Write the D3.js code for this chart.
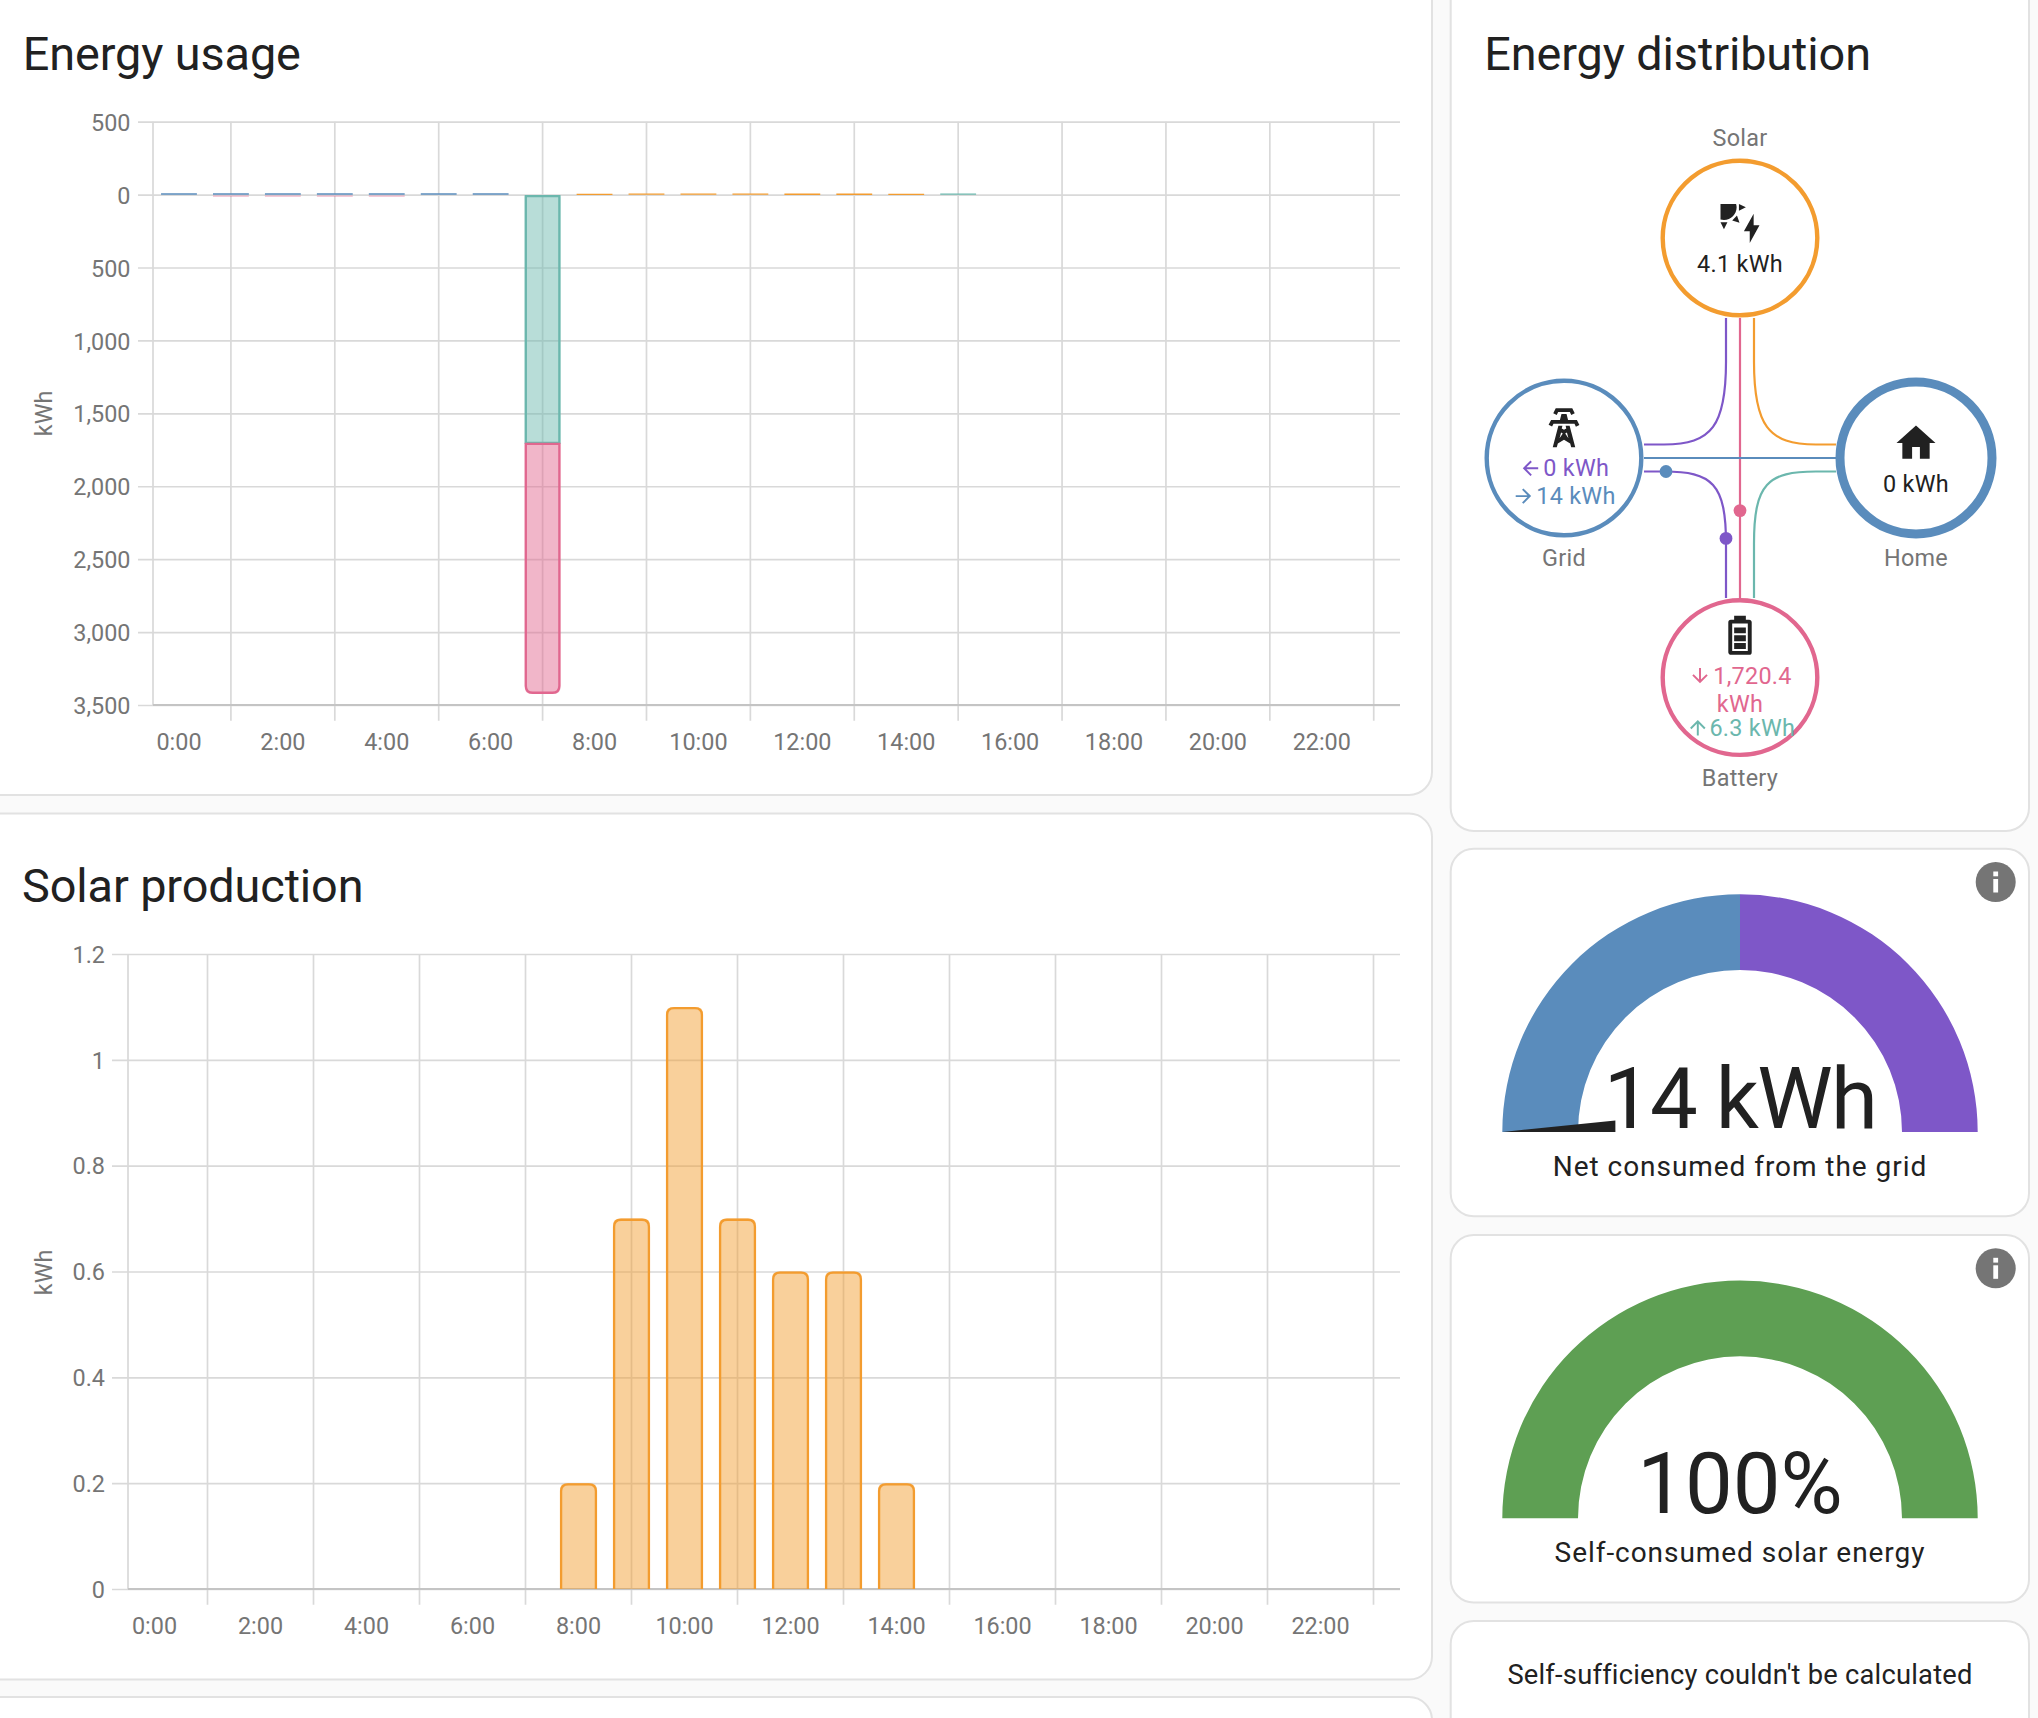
<!DOCTYPE html>
<html><head><meta charset="utf-8">
<style>
html,body{margin:0;padding:0;background:#fafafa;}
svg{display:block;font-family:Roboto,sans-serif;}
.tick text{font-family:Roboto,sans-serif;}
</style>
<script src="https://cdn.jsdelivr.net/npm/d3@7/dist/d3.min.js"></script>
</head><body>
<script>
// ---------- data ----------
const hours = d3.range(24);
const usageYTicks = [500, 0, -500, -1000, -1500, -2000, -2500, -3000, -3500];
const solarYTicks = [0, 0.2, 0.4, 0.6, 0.8, 1, 1.2];
const gridToHome    = [2,2,2,2,2,2,2,0,0,0,0,0,0,0,0,0,0,0,0,0,0,0,0,0];
const solarToHome   = [0,0,0,0,0,0,0,0,0.2,0.7,1.1,0.7,0.6,0.6,0.2,0,0,0,0,0,0,0,0,0];
const batteryToHome = [0,0,0,0,0,0,0,0,0,0,0,0,0,0,0,1.5,0,0,0,0,0,0,0,0];
const gridReturn    = [0,0,0,0,0,0,0,-11,0,0,0,0,0,0,0,0,0,0,0,0,0,0,0,0];
const batteryOut    = [0,0,0,0,0,0,0,-1699,0,0,0,0,0,0,0,0,0,0,0,0,0,0,0,0];
const batteryIn     = [0,-1,-1,-1,-1,0,0,-1714,0,0,0,0,0,0,0,0,0,0,0,0,0,0,0,0];
const solarProduction = solarToHome;
const netGridShares = [1, 1];
const selfConsumedShares = [1];

// ---------- palette ----------
const BLUE="#5a8cbc", PURPLE="#7e57c8", ORANGE="#f39c2f", TEAL="#6bb7ad", PINK="#e1678f", GREEN="#5e9f53";
const INK="#212121", MUTED="#757575", BORDER="#e2e2e2", GRID="#d9d9d9", AXIS="#c4c4c4";

const W=2038,H=1718;
const svg=d3.select("body").append("svg").attr("width",W).attr("height",H).attr("viewBox",`0 0 ${W} ${H}`);

// ---------- cards ----------
const cards=[[-30,-30,1462,825],[-30,813.6,1462,866],[-30,1697,1462,200],
 [1450.7,-30,578.3,861],[1450.7,848.7,578.3,367.5],[1450.7,1235,578.3,367.5],[1450.7,1621,578.3,200]];
svg.append("g").selectAll("rect").data(cards).join("rect")
 .attr("x",d=>d[0]).attr("y",d=>d[1]).attr("width",d=>d[2]).attr("height",d=>d[3])
 .attr("rx",23).attr("fill","#fff").attr("stroke",BORDER).attr("stroke-width",2);

function text(g,x,y,s,o={}){
 return g.append("text").attr("x",x).attr("y",y).text(s)
  .attr("font-size",o.size||23.4).attr("fill",o.fill||INK)
  .attr("text-anchor",o.anchor||"middle").attr("font-weight",o.weight||400)
  .attr("letter-spacing",o.ls||null);
}
text(svg,22.8,70,"Energy usage",{size:46.8,anchor:"start",ls:-0.1});
text(svg,22,901.7,"Solar production",{size:46.8,anchor:"start",ls:-0.1});
text(svg,1484.3,70,"Energy distribution",{size:46.8,anchor:"start",ls:-0.1});

// bar outline with rounded outer end
function barPath(x,w,yBase,yEnd,r,inset){
 const dir=yEnd<yBase?-1:1, l=x+inset, rr=x+w-inset, e=yEnd-dir*inset;
 const c=Math.min(r,Math.abs(yEnd-yBase)/2,w/2);
 const p=d3.path();
 p.moveTo(l,yBase);
 if(c>0){
  p.lineTo(l,e-dir*c); p.quadraticCurveTo(l,e,l+c,e);
  p.lineTo(rr-c,e); p.quadraticCurveTo(rr,e,rr,e-dir*c);
 } else { p.lineTo(l,e); p.lineTo(rr,e); }
 p.lineTo(rr,yBase);
 return p.toString();
}

function chartFrame(cfg){
 const g=svg.append("g");
 const {x,y,yTicks,fmt,top,bottom,left,right,tickLeft,labelRight,labelBase,tickDown,labelDy}=cfg;
 // horizontal grid
 const ya=g.append("g").attr("transform",`translate(${left},0)`)
   .call(d3.axisLeft(y).tickValues(yTicks).tickFormat(fmt).tickSize(-(right-left)).tickPadding(0));
 ya.select(".domain").remove();
 ya.selectAll("line").attr("stroke",GRID).attr("stroke-width",1.7).attr("x2",right-left).attr("x1",tickLeft-left);
 ya.selectAll("text").attr("x",labelRight-left).attr("dy",null).attr("y",labelDy).attr("font-size",23.4).attr("fill",MUTED).attr("text-anchor","end");
 // vertical grid at the odd hours
 const xa=g.append("g").attr("transform",`translate(0,${bottom})`)
   .call(d3.axisBottom(x).tickValues(hours.filter(h=>h%2==1)).tickFormat("").tickSize(0));
 xa.select(".domain").remove();
 xa.selectAll("line").attr("stroke",GRID).attr("stroke-width",1.7).attr("y1",top-bottom).attr("y2",tickDown-bottom);
 // left edge and baseline
 g.append("line").attr("x1",left).attr("x2",left).attr("y1",top).attr("y2",bottom).attr("stroke",GRID).attr("stroke-width",1.7);
 g.append("line").attr("x1",left).attr("x2",right).attr("y1",bottom).attr("y2",bottom).attr("stroke",AXIS).attr("stroke-width",2);
 // hour labels at the even hours
 const xl=g.append("g").attr("transform",`translate(0,${labelBase})`)
   .call(d3.axisBottom(x).tickValues(hours.filter(h=>h%2==0)).tickFormat(h=>h+":00").tickSize(0).tickPadding(0));
 xl.select(".domain").remove();
 xl.selectAll("line").remove();
 xl.selectAll("text").attr("y",0).attr("dy",null).attr("font-size",23.4).attr("fill",MUTED);
 // y title
 g.append("text").attr("transform",`translate(${cfg.titleX},${cfg.titleY}) rotate(-90)`)
   .attr("text-anchor","middle").attr("font-size",23.4).attr("fill",MUTED).text("kWh");
}

function drawBars(x,y,rows,col,r){
 const g=svg.append("g");
 const w=x.bandwidth();
 rows.forEach(d=>{
  const a=y(d.y0),b=y(d.y1),h=Math.abs(b-a),cx=x(d.h);
  if(h===0||col==="none") return;
  if(h<3){
   const ly=d.y1>0?b-0.3:b+1.4;
   g.append("line").attr("x1",cx).attr("x2",cx+w).attr("y1",ly).attr("y2",ly)
    .attr("stroke",col).attr("stroke-width",d.y1>0?1.3:1.6).attr("stroke-opacity",d.y1>0?1:0.35);
   return;
  }
  g.append("path").attr("d",barPath(cx,w,a,b,d.round?r:0,0)).attr("fill",col).attr("fill-opacity",.48);
  g.append("path").attr("d",barPath(cx,w,a,b,d.round?r:0,1.15)+(d.closed?"Z":"")).attr("fill","none").attr("stroke",col).attr("stroke-width",2.3);
 });
}

// ---------- Energy usage ----------
const xU=d3.scaleBand().domain(hours).range([153,1399.7]).paddingInner(.31).paddingOuter(.155);
const yU=d3.scaleLinear().domain([500,-3500]).range([121.7,705]);
chartFrame({x:xU,y:yU,yTicks:usageYTicks,fmt:v=>d3.format(",")(Math.abs(v)),top:121.7,bottom:705,left:153,right:1400,
 tickLeft:138,labelRight:130.5,labelBase:750,tickDown:720.7,titleX:52,titleY:413.4,labelDy:8.6});
const usageKeys=[["grid",gridToHome,BLUE],["solar",solarToHome,ORANGE],["batt",batteryToHome,TEAL],["ret",gridReturn,"none"],["out",batteryOut,TEAL],["in",batteryIn,PINK]];
const usageTable=hours.map(h=>Object.fromEntries([["h",h],...usageKeys.map(k=>[k[0],k[1][h]])]));
const stacked=d3.stack().keys(usageKeys.map(k=>k[0])).offset(d3.stackOffsetDiverging)(usageTable);
stacked.forEach((s,i)=>{
 const rows=s.map((v,h)=>{
   const val=usageKeys[i][1][h];
   const from=val<0?v[1]:v[0], to=val<0?v[0]:v[1];
   return {h,y0:from,y1:to,round:usageKeys[i][0]==="in",closed:usageKeys[i][0]!=="solar"};
 }).filter(d=>d.y0!==d.y1);
 drawBars(xU,yU,rows,usageKeys[i][2],7);
});

// ---------- Solar production ----------
const xS=d3.scaleBand().domain(hours).range([128,1400]).paddingInner(.3).paddingOuter(.15);
const yS=d3.scaleLinear().domain([0,1.2]).range([1589,954]);
chartFrame({x:xS,y:yS,yTicks:solarYTicks,fmt:d3.format("~g"),top:954,bottom:1589,left:128,right:1400,
 tickLeft:112,labelRight:105,labelBase:1634,tickDown:1604.7,titleX:52,titleY:1272.4,labelDy:8.2});
drawBars(xS,yS,solarProduction.map((v,h)=>({h,y0:0,y1:v,round:true})).filter(d=>d.y1>0),ORANGE,7);

// ---------- Energy distribution ----------
const cxMid=1740,cyMid=458,cLeft=1564,cRight=1916,cTop=238,cBot=677.6;
const flows=svg.append("g").attr("fill","none").attr("stroke-width",2.2);
function flow(col,build){const p=d3.path();build(p);flows.append("path").attr("d",p.toString()).attr("stroke",col);}
const xA=1726,xB=1740,xC=1754,yA=444.5,yB=458,yC=471.5,xL=1644,xR=1836,yT=318,yD=598;
flow(PURPLE,p=>{p.moveTo(xA,yT);p.lineTo(xA,362);p.bezierCurveTo(xA,425,xA-14,yA,xA-62,yA);p.lineTo(xL,yA);});
flow(ORANGE,p=>{p.moveTo(xC,yT);p.lineTo(xC,362);p.bezierCurveTo(xC,425,xC+14,yA,xC+62,yA);p.lineTo(xR,yA);});
flow(PINK,p=>{p.moveTo(xB,yT);p.lineTo(xB,yD);});
flow(BLUE,p=>{p.moveTo(xL,yB);p.lineTo(xR,yB);});
flow(PURPLE,p=>{p.moveTo(xL,yC);p.lineTo(xL+20,yC);p.bezierCurveTo(xA-14,yC,xA,yC+12,xA,yC+72);p.lineTo(xA,yD);});
flow(TEAL,p=>{p.moveTo(xR,yC);p.lineTo(xR-20,yC);p.bezierCurveTo(xC+14,yC,xC,yC+12,xC,yC+72);p.lineTo(xC,yD);});
[[1666,yC,BLUE],[xA,538.4,PURPLE],[xB,510.6,PINK]].forEach(d=>
 svg.append("circle").attr("cx",d[0]).attr("cy",d[1]).attr("r",6.4).attr("fill",d[2]));

const nodes=[[cxMid,cTop,ORANGE,4.4,77.3],[cLeft,cyMid,BLUE,4.4,77.3],[cRight,cyMid,BLUE,9,76],[cxMid,cBot,PINK,4.4,77.3]];
svg.append("g").selectAll("circle").data(nodes).join("circle")
 .attr("cx",d=>d[0]).attr("cy",d=>d[1]).attr("r",d=>d[4]).attr("fill","none").attr("stroke",d=>d[2]).attr("stroke-width",d=>d[3]);

const ICONS={
 solar:"M11.45,2V5.55L15,3.77L11.45,2M10.45,8L8,10.46L11.75,11.71L10.45,8M2,11.45L3.77,15L5.55,11.45H2M10,2H2V10C2.57,10.17 3.17,10.25 3.77,10.25C7.35,10.26 10.26,7.35 10.27,3.75C10.26,3.16 10.17,2.57 10,2M17,22V16H14L19,7V13H22L17,22Z",
 tower:"M8.28,5.45L6.5,4.55L7.76,2H16.23L17.5,4.55L15.72,5.44L15,4H9L8.28,5.45M18.62,8H14.09L13.3,5H10.7L9.91,8H5.38L4.1,10.55L5.89,11.44L6.62,10H17.38L18.1,11.45L19.89,10.56L18.62,8M17.77,22H15.7L15.17,20.05L12,18.2L8.83,20.05L8.3,22H6.23L9.12,11H11.19L10.83,12.36L12,13.05L13.17,12.36L12.81,11H14.88L17.77,22M11.38,15L10.5,14.5L9.72,17.4L11.38,15M14.28,17.4L13.5,14.5L12.62,15L14.28,17.4Z",
 home:"M10,20V14H14V20H19V12H22L12,3L2,12H5V20H10Z",
 battery:"M16,20H8V6H16M16.67,4H15V2H9V4H7.33A1.33,1.33 0 0,0 6,5.33V20.67C6,21.4 6.6,22 7.33,22H16.67A1.33,1.33 0 0,0 18,20.67V5.33C18,4.6 17.4,4 16.67,4M15,16H9V19H15V16M15,12H9V15H15V12M15,8H9V11H15V8Z",
 left:"M20,11V13H8L13.5,18.5L12.08,19.92L4.16,12L12.08,4.08L13.5,5.5L8,11H20Z",
 right:"M4,11V13H16L10.5,18.5L11.92,19.92L19.84,12L11.92,4.08L10.5,5.5L16,11H4Z",
 down:"M11,4H13V16L18.5,10.5L19.92,11.92L12,19.84L4.08,11.92L5.5,10.5L11,16V4Z",
 up:"M13,20H11V8L5.5,13.5L4.08,12.08L12,4.16L19.92,12.08L18.5,13.5L13,8V20Z"
};
function icon(name,cx,top,size,fill){
 svg.append("path").attr("d",ICONS[name]).attr("fill",fill||INK)
  .attr("transform",`translate(${cx-size/2},${top}) scale(${size/24})`);
}
icon("solar",cxMid,200,46.8);
icon("tower",cLeft,404.3,46.8);
icon("home",cRight,419.7,46.8);
icon("battery",cxMid,611.9,46.8);

const LS=0.3;
text(svg,cxMid,145.8,"Solar",{fill:MUTED,ls:LS});
text(svg,cLeft,566,"Grid",{fill:MUTED,ls:LS});
text(svg,cRight,566,"Home",{fill:MUTED,ls:LS});
text(svg,cxMid,785.6,"Battery",{fill:MUTED,ls:LS});
text(svg,cxMid,271.8,"4.1 kWh",{ls:LS});
text(svg,cRight,492,"0 kWh",{ls:LS});

icon("left",1530.4,476.6-20,23.4,PURPLE);
text(svg,1543.2,476.2,"0 kWh",{fill:PURPLE,anchor:"start",ls:LS});
icon("right",1523.5,504.4-20,23.4,BLUE);
text(svg,1536.2,504.4,"14 kWh",{fill:BLUE,anchor:"start",ls:LS});
icon("down",1700,684-20,23.4,PINK);
text(svg,1713.2,684,"1,720.4",{fill:PINK,anchor:"start",ls:LS});
text(svg,cxMid,711.6,"kWh",{fill:PINK,ls:LS});
icon("up",1697.8,736-20,23.4,TEAL);
text(svg,1709.4,736,"6.3 kWh",{fill:TEAL,anchor:"start",ls:LS});

// ---------- gauges ----------
function gauge(cy,shares,cols,big,label,labelBase,bigBase,bigLs){
 const g=svg.append("g").attr("transform",`translate(${cxMid},${cy})`);
 const pie=d3.pie().sort(null).startAngle(-Math.PI/2).endAngle(Math.PI/2);
 const arc=d3.arc().innerRadius(162).outerRadius(237.7);
 g.selectAll("path").data(pie(shares)).join("path").attr("d",arc).attr("fill",(d,i)=>cols[i]);
 text(svg,cxMid,bigBase,big,{size:85,ls:bigLs});
 text(svg,cxMid,labelBase,label,{size:28,ls:0.95});
 const ic=svg.append("g").attr("transform",`translate(1995.7,${cy-250})`);
 ic.append("circle").attr("r",20).attr("fill",MUTED);
 ic.append("rect").attr("x",-2.4).attr("y",-3).attr("width",4.8).attr("height",13.5).attr("fill","#fff");
 ic.append("rect").attr("x",-2.4).attr("y",-10.5).attr("width",4.8).attr("height",4.8).attr("fill","#fff");
}
gauge(1132,netGridShares,[BLUE,PURPLE],"14 kWh","Net consumed from the grid",1175.6,1128,-1.6);
gauge(1518.3,selfConsumedShares,[GREEN],"100%","Self-consumed solar energy",1561.6,1513,0);
// needle of the first gauge, resting on the far left
const needle=d3.line();
svg.append("path").attr("d",needle([[1502.5,1132],[1615.4,1120.5],[1615.4,1132]])+"Z").attr("fill",INK);

text(svg,cxMid,1684,"Self-sufficiency couldn't be calculated",{size:27.3,ls:0.22});
</script>
</body></html>
